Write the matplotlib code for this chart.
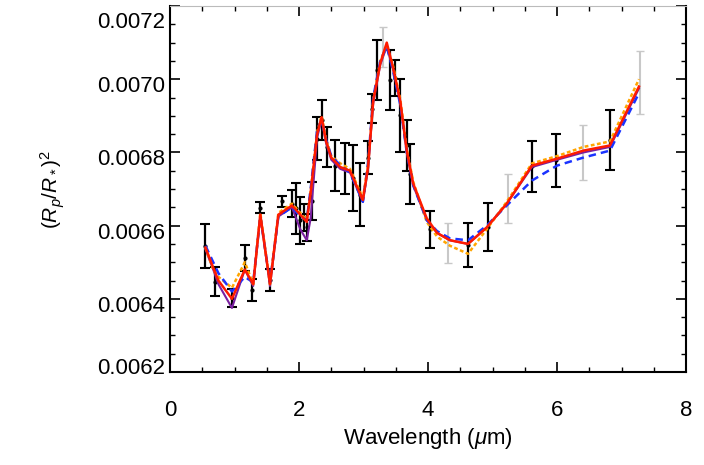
import matplotlib
matplotlib.use("Agg")
import matplotlib.pyplot as plt
import matplotlib.transforms as mtransforms
from matplotlib.ticker import MultipleLocator, FormatStrFormatter

plt.rcParams['font.family'] = ['Liberation Sans', 'DejaVu Sans']
plt.rcParams['mathtext.fontset'] = 'custom'
plt.rcParams['mathtext.rm'] = 'Liberation Sans'
plt.rcParams['mathtext.it'] = 'Liberation Sans:italic'

# model wavelength grid (micron) and transit depths for each model
lam_model = [0.55, 0.67, 0.75, 0.96, 1.16, 1.29, 1.40, 1.55, 1.68, 1.89, 2.02, 2.12,
             2.18, 2.28, 2.35, 2.42, 2.50, 2.64, 2.79, 2.99, 3.07, 3.15, 3.26, 3.36,
             3.46, 3.57, 3.67, 3.77, 3.98, 4.14, 4.34, 4.62, 4.91, 5.22, 5.61, 6.00,
             6.41, 6.82, 7.27]
red_model = [6.54, 6.485, 6.45, 6.40, 6.48, 6.44, 6.63, 6.44, 6.63, 6.655, 6.63, 6.61,
             6.69, 6.85, 6.896, 6.83, 6.786, 6.76, 6.75, 6.67, 6.76, 6.94, 7.044, 7.10,
             7.03, 6.94, 6.805, 6.715, 6.62, 6.58, 6.56, 6.55, 6.595, 6.66, 6.764, 6.783,
             6.805, 6.819, 6.98]
blue_model = [6.545, 6.50, 6.47, 6.42, 6.46, 6.445, 6.625, 6.445, 6.625, 6.65, 6.625, 6.615,
              6.70, 6.86, 6.89, 6.835, 6.79, 6.765, 6.745, 6.665, 6.77, 6.95, 7.05, 7.09,
              7.02, 6.93, 6.80, 6.71, 6.615, 6.585, 6.565, 6.56, 6.60, 6.655, 6.723, 6.764,
              6.786, 6.805, 6.962]
orange_model = [6.54, 6.48, 6.46, 6.43, 6.50, 6.44, 6.635, 6.44, 6.635, 6.66, 6.635, 6.615,
                6.695, 6.855, 6.90, 6.835, 6.79, 6.77, 6.755, 6.675, 6.765, 6.945, 7.05, 7.09,
                7.035, 6.945, 6.81, 6.72, 6.61, 6.57, 6.545, 6.523, 6.59, 6.665, 6.77, 6.79,
                6.815, 6.83, 7.0]
purple_model = [6.535, 6.48, 6.44, 6.375, 6.48, 6.435, 6.63, 6.435, 6.625, 6.65, 6.59, 6.56,
                6.62, 6.84, 6.89, 6.825, 6.78, 6.755, 6.745, 6.665, 6.755, 6.935, 7.04, 7.09,
                7.025, 6.935, 6.80, 6.71, 6.615, 6.58, 6.56, 6.55, 6.595, 6.66, 6.76, 6.78,
                6.80, 6.815, 6.975]

# observed depths (x1e-3) with 1-sigma errors
lam_obs = [0.54, 0.70, 0.96, 1.16, 1.27, 1.40, 1.55, 1.74, 1.89, 1.96, 2.02, 2.07, 2.12,
           2.20, 2.28, 2.36, 2.43, 2.56, 2.71, 2.84, 2.95, 3.07, 3.13, 3.21, 3.41, 3.49,
           3.57, 3.67, 3.72, 4.03, 4.62, 4.93, 5.61, 5.98, 6.82]
depth_obs = [6.545, 6.447, 6.403, 6.512, 6.425, 6.649, 6.452, 6.666, 6.66, 6.647, 6.614,
             6.622, 6.595, 6.666, 6.838, 6.888, 6.814, 6.764, 6.756, 6.729, 6.685, 6.786,
             6.92, 7.025, 6.997, 7.003, 6.901, 6.819, 6.742, 6.59, 6.547, 6.597, 6.762,
             6.778, 6.833]
err_obs = [0.06, 0.04, 0.025, 0.035, 0.03, 0.015, 0.03, 0.015, 0.037, 0.07, 0.063, 0.037,
           0.037, 0.052, 0.06, 0.055, 0.055, 0.07, 0.07, 0.09, 0.085, 0.045, 0.04, 0.082,
           0.082, 0.05, 0.1, 0.07, 0.082, 0.05, 0.06, 0.065, 0.07, 0.073, 0.082]

# second (grey) data set
lam_grey = [3.30, 4.31, 5.24, 6.40, 7.29]
depth_grey = [7.088, 6.553, 6.674, 6.80, 6.99]
err_grey = [0.055, 0.055, 0.066, 0.075, 0.086]

scale = 1e-3
fig = plt.figure(figsize=(7.04, 4.65), dpi=100)
ax = fig.add_axes([0.2415, 0.2, 0.733, 0.787])

ax.errorbar(lam_grey, [d * scale for d in depth_grey], yerr=[e * scale for e in err_grey],
            fmt='none', ecolor='#c8c8c8', elinewidth=1.5, capsize=3, zorder=1)
ax.errorbar(lam_obs, [d * scale for d in depth_obs], yerr=[e * scale for e in err_obs],
            fmt='o', ms=2, color='black', ecolor='black', elinewidth=1.6, capsize=3.5,
            capthick=1.5, zorder=2)

ax.plot(lam_model, [v * scale for v in purple_model], color='#7a1fa0', lw=1.5, zorder=3)
ax.plot(lam_model, [v * scale for v in orange_model], color='#ffa500', lw=1.8,
        ls=(0, (1.5, 1)), zorder=4)
ax.plot(lam_model, [v * scale for v in blue_model], color='#1a33ff', lw=1.8,
        ls=(0, (3, 2)), zorder=5)
ax.plot(lam_model, [v * scale for v in red_model], color='#ff1a00', lw=1.8, zorder=6)

ax.set_xlim(0, 8)
ax.set_ylim(0.0062, 0.0072)
ax.xaxis.set_major_locator(MultipleLocator(2))
ax.xaxis.set_minor_locator(MultipleLocator(0.5))
ax.yaxis.set_major_locator(MultipleLocator(0.0002))
ax.yaxis.set_minor_locator(MultipleLocator(0.00005))
ax.yaxis.set_major_formatter(FormatStrFormatter('%.4f'))
ax.tick_params(which='both', direction='in', top=True, right=True, labelsize=16)
ax.tick_params(which='major', length=7, width=1.2)
ax.tick_params(which='minor', length=3.5, width=1)
ax.tick_params(axis='x', pad=20)
for side in ['left', 'bottom', 'right']:
    ax.spines[side].set_linewidth(1.5)
ax.spines['top'].set_color('#bbbbbb')

# y tick labels sit a little below their ticks, end labels pulled inside
fig.canvas.draw()
for tick in ax.yaxis.get_major_ticks():
    loc = tick.get_loc()
    dy = -5
    if abs(loc - 0.0072) < 1e-7:
        dy = -14
    elif abs(loc - 0.0062) < 1e-7:
        dy = 6
    off = mtransforms.ScaledTranslation(0, dy / 100, fig.dpi_scale_trans)
    tick.label1.set_transform(tick.label1.get_transform() + off)

ax.set_xlabel(r'Wavelength ($\mu$m)', fontsize=16, labelpad=4)
ax.set_ylabel(r'$(R_p/R_*)^2$', fontsize=15, labelpad=22)

fig.savefig('out.png', dpi=100)
